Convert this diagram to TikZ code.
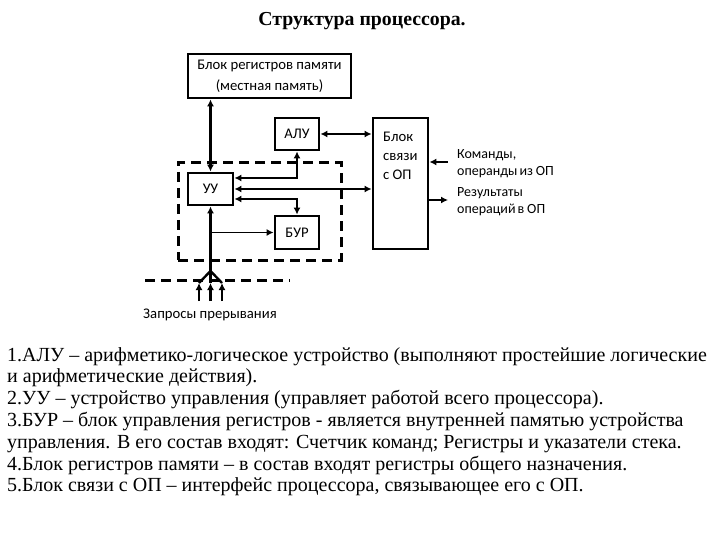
\documentclass[tikz,border=0pt]{standalone}
\usepackage{fontspec}
\setmainfont{Liberation Serif}
\newfontfamily\calfont{Carlito}
\usetikzlibrary{arrows.meta}
\begin{document}
\begin{tikzpicture}[x=1pt,y=-1pt,
  >={Latex[length=7pt,width=7pt]},
  box/.style={draw, line width=2.8pt, inner sep=0pt, font=\calfont\fontsize{14.7}{16}\selectfont},
  conn/.style={line width=2.4pt},
  thinconn/.style={line width=1.8pt},
  lab/.style={inner sep=0pt, align=left, font=\calfont\fontsize{14}{17}\selectfont},
  ctrlbox/.style={draw, line width=3pt, dash pattern=on 10pt off 6pt, inner sep=0pt},
  body/.style={anchor=base west, inner sep=0pt, font=\fontsize{20}{22}\selectfont}]
\useasboundingbox (0,0) rectangle (720,540);

\node[anchor=base, inner sep=0pt, font=\bfseries\fontsize{19.8}{22}\selectfont] (title) at (362,25.5) {Структура процессора.};

% dashed control region
\node[ctrlbox, minimum width=163pt, minimum height=97pt] (ctrl) at (259.5,211.5) {};
\coordinate (dl1) at (145,280);
\coordinate (dl2) at (290,280);
\draw[ctrlbox] (dl1) -- (dl2);

% blocks
\node[box, minimum width=163pt, minimum height=44pt, align=center,
      font=\calfont\fontsize{14.7}{21}\selectfont] (mem) at (269.5,76) {Блок регистров памяти\\(местная память)};
\node[box, minimum width=44pt, minimum height=32pt] (alu) at (297,134) {АЛУ};
\node[box, minimum width=45pt, minimum height=32pt] (uu) at (210.5,189) {УУ};
\node[box, minimum width=44pt, minimum height=33pt] (bur) at (297,232.5) {БУР};
\node[box, minimum width=55pt, minimum height=131pt] (bs) at (400.5,183.5) {};
\node[anchor=north west, align=left, inner sep=0pt,
      font=\calfont\fontsize{14.7}{19}\selectfont] (bstext) at (383,131.5) {Блок\\связи\\с ОП};

% coordinates
\coordinate (fan) at (210.5,271);
\coordinate (i1t) at (199,283);
\coordinate (i1b) at (199,301);
\coordinate (i2t) at (210.5,283);
\coordinate (i2b) at (210.5,301);
\coordinate (i3t) at (222,283);
\coordinate (i3b) at (222,301);
\coordinate (cmd) at (448,162);
\coordinate (res) at (448,200);

% connectors
\draw[conn,<->] (mem.south -| uu.north) -- (uu.north);
\draw[conn,<->] (alu.east) -- (alu.east -| bs.west);
\draw[conn,<->] (alu.south) |- ([yshift=11pt]uu.east);
\draw[conn,<->] (uu.east) -- (uu.east -| bs.west);
\draw[conn,<->] ([yshift=-10pt]uu.east) -| (bur.north);
\draw[conn,->] (fan) -- (uu.south);
\draw[thinconn,->] (uu.south |- bur.west) -- (bur.west);
\draw[conn,->] (i1b) -- (i1t);
\draw[conn,->] (i2b) -- (i2t);
\draw[conn,->] (i3b) -- (i3t);
\draw[conn] (i1t) -- (fan) -- (i3t);
\draw[conn] (i2t) -- (fan);
\draw[conn,<-] (cmd -| bs.east) -- (cmd);
\draw[conn,->] (res -| bs.east) -- (res);

% labels
\node[lab, anchor=west] (cmdl) at (457,163.5) {Команды,\\операнды\hspace{0.15em}из\hspace{0.2em}ОП};
\node[lab, anchor=west] (resl) at (457,201.5) {Результаты\\операций\hspace{0.15em}в\hspace{0.2em}ОП};
\node[lab, font=\calfont\fontsize{14.7}{17}\selectfont] (irq) at (210,315) {Запросы прерывания};

% body text
\node[body] (t1) at (7,361) {1.АЛУ – арифметико-логическое устройство (выполняют простейшие логические};
\node[body] (t2) at (7,382.8) {и арифметические действия).};
\node[body] (t3) at (7,404.6) {2.УУ – устройство управления (управляет работой всего процессора).};
\node[body] (t4) at (7,426.4) {3.БУР – блок управления регистров - является внутренней памятью устройства};
\node[body] (t5) at (7,448.2) {управления. В его состав входят: Счетчик команд; Регистры и указатели стека.};
\node[body] (t6) at (7,470) {4.Блок регистров памяти – в состав входят регистры общего назначения.};
\node[body] (t7) at (7,491.8) {5.Блок связи с ОП – интерфейс процессора, связывающее его с ОП.};
\end{tikzpicture}
\end{document}
